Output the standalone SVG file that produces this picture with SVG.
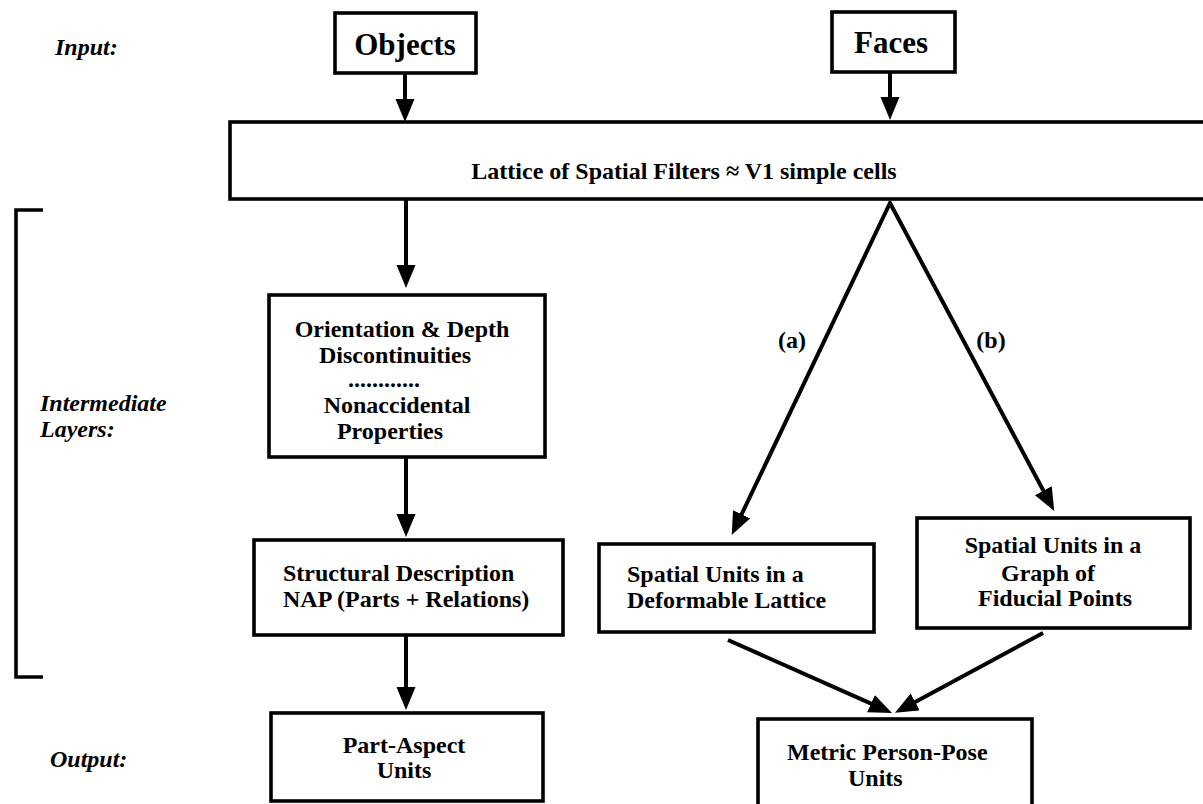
<svg xmlns="http://www.w3.org/2000/svg" width="1203" height="804" viewBox="0 0 1203 804">
<defs>
<marker id="ah" markerUnits="userSpaceOnUse" markerWidth="26" markerHeight="20" refX="10" refY="9.5" orient="auto">
<path d="M0,0 L23,9.5 L0,19 z" fill="#000"/>
</marker>
<style>
.box{fill:#fff;stroke:#000;stroke-width:3.6}
.t{font-family:"Liberation Serif","Times New Roman",serif;font-weight:bold;font-size:24px;fill:#000}
.big{font-size:31px}
.lbl{font-family:"Liberation Serif","Times New Roman",serif;font-weight:bold;font-style:italic;font-size:24px;fill:#000}
.c{text-anchor:middle}
.conn line{stroke:#000;stroke-width:4;marker-end:url(#ah)}
</style>
</defs>
<rect width="1203" height="804" fill="#fff"/>

<g id="labels">
<text class="lbl" x="55" y="55">Input:</text>
<text class="lbl" x="40" y="411">Intermediate</text>
<text class="lbl" x="40" y="437">Layers:</text>
<text class="lbl" x="50" y="767">Output:</text>
<path d="M43,210 L16,210 L16,677 L43,677" fill="none" stroke="#000" stroke-width="3.6"/>
</g>

<g id="objects">
<rect class="box" x="335" y="13" width="141" height="60"/>
<text class="t big c" x="405" y="55">Objects</text>
</g>

<g id="faces">
<rect class="box" x="832" y="12" width="123" height="60"/>
<text class="t big c" x="891" y="53">Faces</text>
</g>

<g id="lattice">
<rect class="box" x="230" y="122" width="990" height="77"/>
<text class="t c" x="684" y="179">Lattice of Spatial Filters ≈ V1 simple cells</text>
</g>

<g id="orientation">
<rect class="box" x="269" y="295" width="276" height="162"/>
<text class="t c" x="402" y="337">Orientation &amp; Depth</text>
<text class="t c" x="395" y="363">Discontinuities</text>
<text class="t c" x="384" y="387">............</text>
<text class="t c" x="397" y="413">Nonaccidental</text>
<text class="t c" x="390" y="439">Properties</text>
</g>

<g id="structural">
<rect class="box" x="254" y="540" width="309" height="95"/>
<text class="t" x="283" y="581">Structural Description</text>
<text class="t" x="283" y="607">NAP (Parts + Relations)</text>
</g>

<g id="partaspect">
<rect class="box" x="271" y="713" width="272" height="88"/>
<text class="t c" x="404" y="753">Part-Aspect</text>
<text class="t c" x="404" y="778">Units</text>
</g>

<g id="deformable">
<rect class="box" x="599" y="544" width="275" height="88"/>
<text class="t" x="627" y="582">Spatial Units in a</text>
<text class="t" x="627" y="608">Deformable Lattice</text>
</g>

<g id="fiducial">
<rect class="box" x="917" y="518" width="273" height="110"/>
<text class="t c" x="1053" y="553">Spatial Units in a</text>
<text class="t c" x="1048" y="581">Graph of</text>
<text class="t c" x="1055" y="606">Fiducial Points</text>
</g>

<g id="metric">
<rect class="box" x="758" y="719" width="274" height="110"/>
<text class="t" x="787" y="760">Metric Person-Pose</text>
<text class="t" x="848" y="786">Units</text>
</g>

<g id="connectors" class="conn">
<line x1="405" y1="73" x2="405" y2="109"/>
<line x1="890" y1="72" x2="890" y2="107"/>
<line x1="406" y1="199" x2="406" y2="275"/>
<line x1="406" y1="457" x2="406" y2="524"/>
<line x1="406" y1="635" x2="406" y2="697"/>
<line x1="890" y1="203" x2="737.3" y2="523.3" stroke-linecap="round"/>
<line x1="890" y1="203" x2="1048.1" y2="499.5" stroke-linecap="round"/>
<line x1="728" y1="640" x2="880.1" y2="707.7"/>
<line x1="1043" y1="633" x2="906.4" y2="706.7"/>
<text class="t c" x="792" y="348">(a)</text>
<text class="t c" x="991" y="348">(b)</text>
</g>
</svg>
